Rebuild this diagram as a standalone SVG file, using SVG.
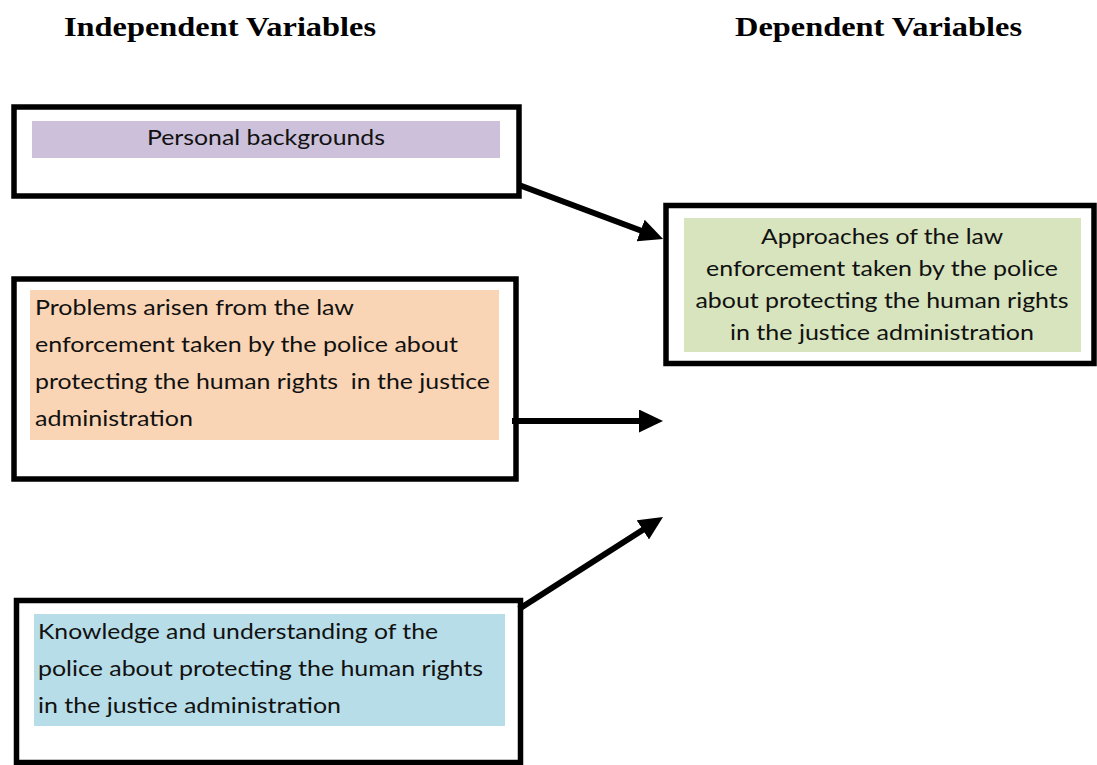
<svg xmlns="http://www.w3.org/2000/svg" width="1097" height="765" viewBox="0 0 1097 765">
<style>
.title{font-family:"Liberation Serif","Times New Roman",serif;font-weight:bold;font-size:28px;fill:#000}
.box{fill:#fff;stroke:#000;stroke-width:5.5}
.t{font-family:Lato,"Open Sans",sans-serif;font-size:22px;fill:#111}
.c{text-anchor:middle}
.conn line{stroke:#000;stroke-width:6}
</style>
<defs>
<marker id="ah" markerUnits="userSpaceOnUse" markerWidth="26" markerHeight="24" refX="10" refY="11.5" orient="auto">
<path d="M0,0 L24,11.5 L0,23 z" fill="#000"/>
</marker>
</defs>
<rect width="1097" height="765" fill="#fff"/>
<text class="title" x="64" y="36" textLength="312" lengthAdjust="spacingAndGlyphs">Independent Variables</text>
<text class="title" x="735" y="36" textLength="287" lengthAdjust="spacingAndGlyphs">Dependent Variables</text>

<g id="node-personal">
<rect class="box" x="14" y="107" width="505" height="89"/>
<rect x="32" y="121" width="468" height="37" fill="#ccc0da"/>
<text class="t c" x="266" y="145" textLength="238" lengthAdjust="spacingAndGlyphs">Personal backgrounds</text>
</g>

<g id="node-approaches">
<rect class="box" x="666" y="205.5" width="428" height="158"/>
<rect x="684" y="218" width="397" height="134" fill="#d7e4bd"/>
<text class="t c" x="882" y="244" textLength="242" lengthAdjust="spacingAndGlyphs">Approaches of the law</text>
<text class="t c" x="882" y="276" textLength="352" lengthAdjust="spacingAndGlyphs">enforcement taken by the police</text>
<text class="t c" x="882" y="308" textLength="373" lengthAdjust="spacingAndGlyphs">about protecting the human rights</text>
<text class="t c" x="882" y="340" textLength="304" lengthAdjust="spacingAndGlyphs">in the justice administration</text>
</g>

<g id="node-problems">
<rect class="box" x="14" y="279" width="502" height="200"/>
<rect x="30" y="290" width="469" height="150" fill="#fad5b5"/>
<text class="t" x="35" y="315" textLength="319" lengthAdjust="spacingAndGlyphs">Problems arisen from the law</text>
<text class="t" x="35" y="352" textLength="423" lengthAdjust="spacingAndGlyphs">enforcement taken by the police about</text>
<text class="t" x="35" y="389" textLength="455" lengthAdjust="spacingAndGlyphs" xml:space="preserve" style="white-space:pre">protecting the human rights  in the justice</text>
<text class="t" x="35" y="426" textLength="158" lengthAdjust="spacingAndGlyphs">administration</text>
</g>

<g id="node-knowledge">
<rect class="box" x="16.5" y="600.5" width="504" height="162"/>
<rect x="34" y="614" width="471" height="112" fill="#b7dde8"/>
<text class="t" x="38" y="639" textLength="400" lengthAdjust="spacingAndGlyphs">Knowledge and understanding of the</text>
<text class="t" x="38" y="676" textLength="445" lengthAdjust="spacingAndGlyphs">police about protecting the human rights</text>
<text class="t" x="38" y="713" textLength="303" lengthAdjust="spacingAndGlyphs">in the justice administration</text>
</g>

<g id="connectors" class="conn">
<line x1="519" y1="185" x2="650" y2="234" marker-end="url(#ah)"/>
<line x1="512" y1="421" x2="649" y2="421" marker-end="url(#ah)"/>
<line x1="519" y1="609" x2="651.2" y2="524.5" marker-end="url(#ah)"/>
</g>
</svg>
